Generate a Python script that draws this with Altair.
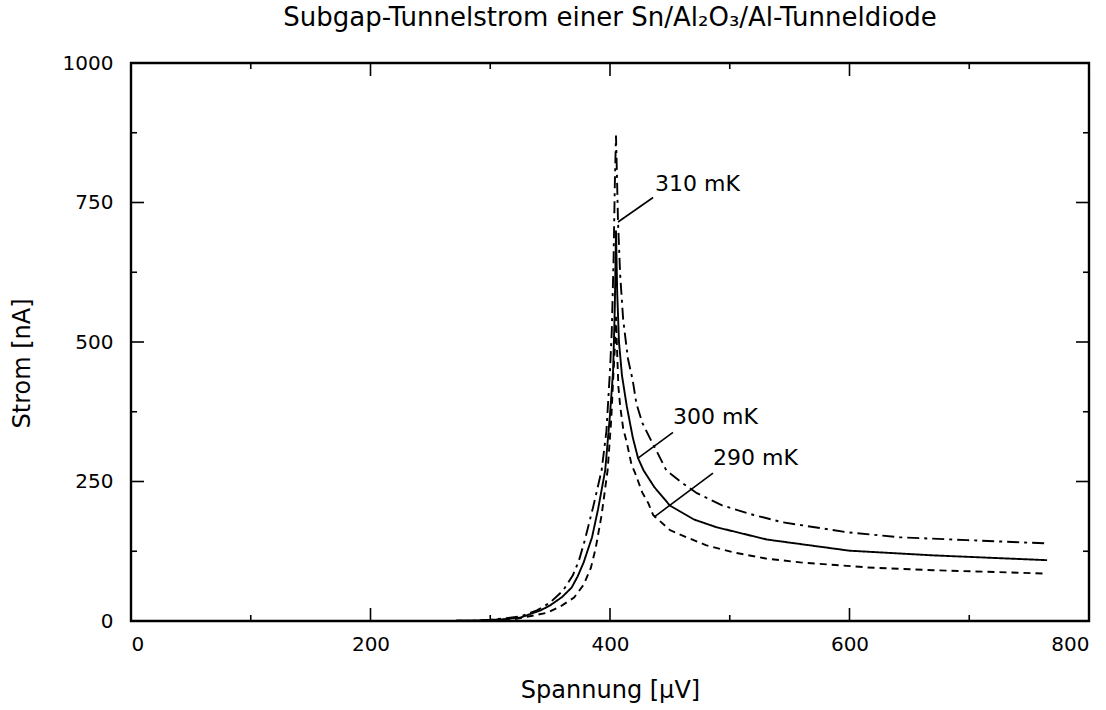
import altair as alt
import pandas as pd

# ---- data ----
V290 = [0, 250, 290, 320, 348, 360, 370, 378, 384, 388, 393, 398, 401, 403, 404.3, 405, 406, 407, 408.5, 411, 414, 418, 421, 427, 432, 436, 450, 464, 480, 503, 530, 559, 615, 670, 765]
I290 = [0, 0, 0.5, 3, 15, 28, 42, 65, 95, 130, 190, 270, 360, 449, 500, 545, 480, 420, 385, 345, 320, 280, 265, 230, 211, 190, 163, 150, 136, 123, 112, 105, 96, 91, 85]

V300 = [0, 250, 285, 310, 325, 342, 350, 360, 368, 373, 378, 385, 390, 396, 400, 402.6, 404, 405, 406, 407.5, 410, 414, 419, 423.4, 428, 437, 450, 470, 489, 531, 600, 670, 765]
I300 = [0, 0, 0.5, 3, 6, 19, 28, 43, 60, 80, 105, 150, 200, 270, 370, 449, 560, 700, 590, 500, 440, 385, 329, 292, 270, 240, 207, 182, 168, 146, 126, 117.6, 109]

V310 = [0, 250, 283, 300, 325, 339, 350, 361, 369, 374, 379, 386, 393, 397, 400, 401.5, 403, 404, 405, 406, 406.7, 408.5, 411, 415, 419, 422, 427, 433, 440, 447, 460, 472.6, 494, 520, 544, 598, 642, 698, 765]
I310 = [0, 0, 0.5, 2, 8, 19, 33, 55, 82, 108, 145, 205, 270, 340, 449, 520, 650, 780, 870, 780, 715, 620, 540, 470, 431, 390, 355, 329, 300, 270, 248, 229, 207, 190, 177, 159, 150, 145, 139]

series_names = ["290 mK", "300 mK", "310 mK"]

label_text = ["310 mK", "300 mK", "290 mK"]
label_x = [437.6, 452.6, 486.0]
label_y = [784, 365, 291.6]
lead_x1 = [436.0, 452.6, 486.0]
lead_y1 = [759, 338, 265]
lead_x2 = [406.7, 423.4, 436.8]
lead_y2 = [715, 292, 186.3]

x_major = [0, 200, 400, 600, 800]
x_minor = [100, 300, 500, 700]
y_major = [0, 250, 500, 750, 1000]
y_minor = [125, 375, 625, 875]

TITLE = "Subgap-Tunnelstrom einer Sn/Al₂O₃/Al-Tunneldiode"
FONT = "DejaVu Sans"
W, H = 958, 558
MAJ, MIN = 13, 6

rows = []
for name, vs, cs in zip(series_names, [V290, V300, V310], [I290, I300, I310]):
    for k, (v, c) in enumerate(zip(vs, cs)):
        rows.append({"V": v, "I": c, "T": name, "k": k})
df = pd.DataFrame(rows)

xs = alt.Scale(domain=[0, 800], nice=False, zero=False)
ys = alt.Scale(domain=[0, 1000], nice=False, zero=False)

x_axis = alt.Axis(
    values=x_major, format="d", title="Spannung [µV]", domain=False, ticks=False, grid=False,
    labelFont=FONT, labelFontSize=20, labelColor="black", labelPadding=13,
    titleFont=FONT, titleFontSize=24, titleFontWeight="normal", titleColor="black",
    titleX=W / 2, titleY=69, titleBaseline="middle", titleAlign="center")
y_axis = alt.Axis(
    values=y_major, format="d", title="Strom [nA]", domain=False, ticks=False, grid=False,
    labelFont=FONT, labelFontSize=20, labelColor="black", labelPadding=18,
    titleFont=FONT, titleFontSize=24, titleFontWeight="normal", titleColor="black",
    titleX=-109, titleY=300, titleBaseline="middle", titleAlign="center", titleAngle=270)

curves = alt.Chart(df).mark_line(color="black", strokeWidth=1.9, clip=True).encode(
    x=alt.X("V:Q", scale=xs, axis=x_axis),
    y=alt.Y("I:Q", scale=ys, axis=y_axis),
    strokeDash=alt.StrokeDash("T:N", scale=alt.Scale(
        domain=series_names, range=[[7, 5], [1, 0], [12, 5, 3, 5]]), legend=None),
    detail="T:N",
    order="k:Q",
)

labels_df = pd.DataFrame({"V": label_x, "I": label_y, "t": label_text})
labels = alt.Chart(labels_df).mark_text(
    align="left", baseline="middle", font=FONT, fontSize=22, color="black"
).encode(x=alt.X("V:Q", scale=xs, axis=x_axis), y=alt.Y("I:Q", scale=ys, axis=y_axis), text="t:N")

lead_df = pd.DataFrame({"V": lead_x1, "I": lead_y1, "V2": lead_x2, "I2": lead_y2})
leads = alt.Chart(lead_df).mark_rule(color="black", strokeWidth=1.6).encode(
    x=alt.X("V:Q", scale=xs, axis=x_axis), x2="V2:Q",
    y=alt.Y("I:Q", scale=ys, axis=y_axis), y2="I2:Q")


def xticks(vals, length):
    d = pd.DataFrame({"V": vals})
    bottom = alt.Chart(d).mark_rule(color="black", strokeWidth=1.6).encode(
        x=alt.X("V:Q", scale=xs, axis=x_axis), y=alt.value(H), y2=alt.value(H - length))
    top = alt.Chart(d).mark_rule(color="black", strokeWidth=1.6).encode(
        x=alt.X("V:Q", scale=xs, axis=x_axis), y=alt.value(0), y2=alt.value(length))
    return [bottom, top]


def yticks(vals, length):
    d = pd.DataFrame({"I": vals})
    left = alt.Chart(d).mark_rule(color="black", strokeWidth=1.6).encode(
        y=alt.Y("I:Q", scale=ys, axis=y_axis), x=alt.value(0), x2=alt.value(length))
    right = alt.Chart(d).mark_rule(color="black", strokeWidth=1.6).encode(
        y=alt.Y("I:Q", scale=ys, axis=y_axis), x=alt.value(W), x2=alt.value(W - length))
    return [left, right]


tick_layers = xticks(x_major, MAJ) + xticks(x_minor, MIN) + yticks(y_major, MAJ) + yticks(y_minor, MIN)

chart = alt.layer(curves, leads, labels, *tick_layers).properties(
    width=W, height=H,
    background="white",
    title=alt.TitleParams(text=TITLE, font=FONT, fontSize=26, fontWeight="normal",
                          color="black", anchor="middle", baseline="alphabetic", offset=1),
    autosize=alt.AutoSizeParams(type="none"),
    padding={"left": 131, "top": 63, "right": 17, "bottom": 89},
).configure_view(stroke="black", strokeWidth=2.4)

chart.save("out.html", embed_options={"renderer": "svg", "actions": False})
